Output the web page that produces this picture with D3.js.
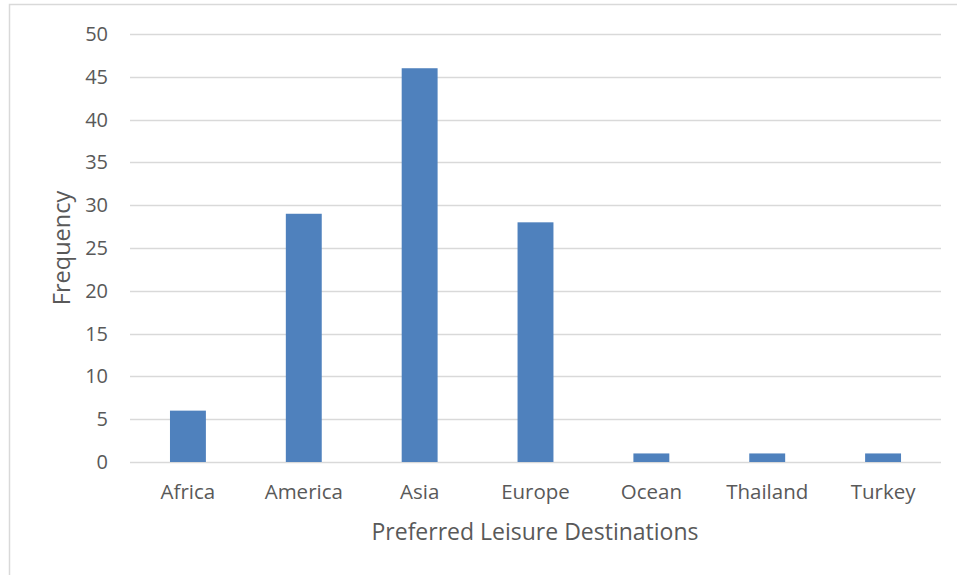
<!DOCTYPE html>
<html><head><meta charset="utf-8">
<script src="https://cdn.jsdelivr.net/npm/d3@7"></script>
<style>body{margin:0;background:#fff;} text{font-family:"Open Sans",sans-serif;fill:#595959;}</style>
</head><body>
<svg id="c" width="957" height="575"></svg>
<script>
const categories = ["Africa","America","Asia","Europe","Ocean","Thailand","Turkey"];
const values = [6,29,46,28,1,1,1];
const yTicks = [0,5,10,15,20,25,30,35,40,45,50];
const xTitle = "Preferred Leisure Destinations";
const yTitle = "Frequency";

const svg = d3.select("#c");
svg.append("rect").attr("x",9.5).attr("y",4.5).attr("width",1000).attr("height",1000)
  .attr("fill","none").attr("stroke","#d9d9d9").attr("stroke-width",1.5);

const m = {left:130, right:941, top:34, bottom:462};
const x = d3.scaleBand().domain(categories).range([m.left, m.right]).paddingInner(0.69).paddingOuter(0.345);
const y = d3.scaleLinear().domain([0,50]).range([m.bottom, m.top]);

svg.append("g").selectAll("line").data(yTicks).join("line")
  .attr("x1",m.left).attr("x2",m.right)
  .attr("y1",d=>Math.round(y(d))+0.5).attr("y2",d=>Math.round(y(d))+0.5)
  .attr("stroke","#d9d9d9").attr("stroke-width",1.5);

svg.append("g").selectAll("rect").data(values).join("rect")
  .attr("x",(d,i)=>x(categories[i])).attr("width",x.bandwidth())
  .attr("y",d=>y(d)).attr("height",d=>y(0)-y(d)).attr("fill","#4f81bd");

const yAxis = svg.append("g").attr("transform",`translate(${m.left},0)`)
  .call(d3.axisLeft(y).tickValues(yTicks).tickSize(0).tickPadding(22));
yAxis.select(".domain").remove();
yAxis.selectAll("text").style("font-size","20px").style("fill","#595959").style("font-family","'Open Sans',sans-serif");

const xAxis = svg.append("g").attr("transform",`translate(0,${m.bottom})`)
  .call(d3.axisBottom(x).tickSize(0).tickPadding(22));
xAxis.select(".domain").remove();
xAxis.selectAll("text").style("font-size","20.5px").style("fill","#595959").style("font-family","'Open Sans',sans-serif");

svg.append("text").attr("x",535).attr("y",540).attr("text-anchor","middle")
  .style("font-size","23px").text(xTitle);
svg.append("text").attr("transform","translate(70,248) rotate(-90)").attr("text-anchor","middle")
  .style("font-size","23.5px").text(yTitle);
</script>
</body></html>
